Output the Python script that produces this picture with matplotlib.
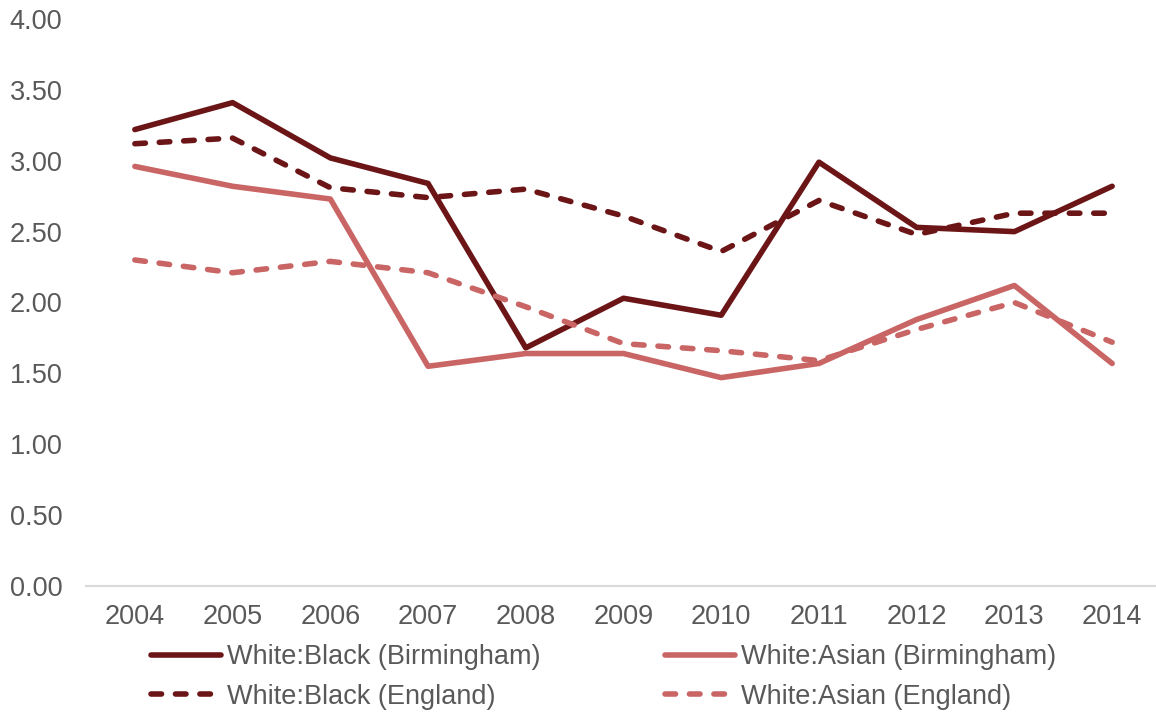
import matplotlib
matplotlib.use("Agg")
import matplotlib.pyplot as plt

years = ["2004", "2005", "2006", "2007", "2008", "2009", "2010", "2011", "2012", "2013", "2014"]
wb_birmingham = [3.22, 3.41, 3.02, 2.84, 1.68, 2.03, 1.91, 2.99, 2.53, 2.50, 2.82]
wa_birmingham = [2.96, 2.82, 2.73, 1.55, 1.64, 1.64, 1.47, 1.57, 1.88, 2.12, 1.57]
wb_england = [3.12, 3.16, 2.81, 2.74, 2.80, 2.61, 2.36, 2.72, 2.48, 2.63, 2.63]
wa_england = [2.30, 2.21, 2.29, 2.21, 1.97, 1.71, 1.66, 1.59, 1.81, 2.00, 1.72]
y_ticks = [0.0, 0.5, 1.0, 1.5, 2.0, 2.5, 3.0, 3.5, 4.0]

dark = "#6B1517"
light = "#C96564"
text_col = "#595959"

plt.rcParams['font.family'] = ['Liberation Sans', 'DejaVu Sans']

fig = plt.figure(figsize=(11.56, 7.2), dpi=100)
ax = fig.add_axes([86 / 1156, 1 - 586 / 720, (1161 - 86) / 1156, (586 - 19) / 720])

x = list(range(len(years)))
lw = 4.0
dash = (0, (1.9, 2.5))
ax.plot(x, wb_birmingham, color=dark, lw=lw, solid_capstyle='round', solid_joinstyle='round',
        label="White:Black (Birmingham)")
ax.plot(x, wa_birmingham, color=light, lw=lw, solid_capstyle='round', solid_joinstyle='round',
        label="White:Asian (Birmingham)")
ax.plot(x, wb_england, color=dark, lw=lw, linestyle=dash, dash_capstyle='round', dash_joinstyle='round',
        label="White:Black (England)")
ax.plot(x, wa_england, color=light, lw=lw, linestyle=dash, dash_capstyle='round', dash_joinstyle='round',
        label="White:Asian (England)")

ax.set_xlim(-0.5, len(years) - 0.5)
ax.set_ylim(0, 4.0)
ax.set_yticks(y_ticks)
ax.set_yticklabels([f"{v:.2f}" for v in y_ticks])
ax.set_xticks(x)
ax.set_xticklabels(years)

for s in ["top", "right", "left"]:
    ax.spines[s].set_visible(False)
ax.spines["bottom"].set_color("#D9D9D9")
ax.spines["bottom"].set_linewidth(1.5)
ax.tick_params(axis='both', length=0, labelsize=19.5, colors=text_col)
ax.tick_params(axis='y', pad=17)
ax.tick_params(axis='x', pad=13)

handles, labels = ax.get_legend_handles_labels()
order = [0, 2, 1, 3]
leg = fig.legend([handles[i] for i in order], [labels[i] for i in order],
                 ncol=2, loc='center', bbox_to_anchor=(0.522, 1 - 677 / 720),
                 frameon=False, fontsize=19.5, handlelength=2.6, handletextpad=0.2,
                 columnspacing=4.6, labelspacing=0.5, labelcolor=text_col)

fig.savefig("out.png", dpi=100)
